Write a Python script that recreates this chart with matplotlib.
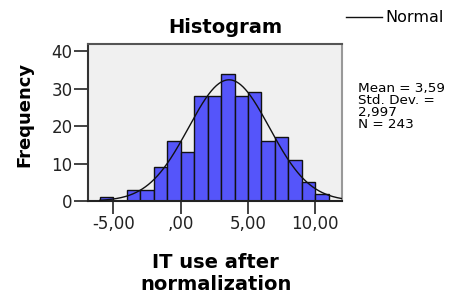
import numpy as np
import matplotlib
matplotlib.use("Agg")
import matplotlib.pyplot as plt
from matplotlib.lines import Line2D

# ---- data ----
bin_lefts = [-6, -5, -4, -3, -2, -1, 0, 1, 2, 3, 4, 5, 6, 7, 8, 9, 10]
counts = [1, 0, 3, 3, 9, 16, 13, 28, 28, 34, 28, 29, 16, 17, 11, 5, 2]
bin_width = 1.0
mean_val = 3.59
std_val = 2.997
n_val = 243
x_ticks = [-5, 0, 5, 10]
x_tick_labels = ["-5,00", ",00", "5,00", "10,00"]
y_ticks = [0, 10, 20, 30, 40]
title = "Histogram"
x_label_lines = ["IT use after", "normalization"]
y_label = "Frequency"
legend_label = "Normal"
stats_lines = ["Mean = 3,59", "Std. Dev. =", "2,997", "N = 243"]

W, H = 451, 295
fig = plt.figure(figsize=(W / 100, H / 100), dpi=100)
plt.rcParams['font.family'] = ['DejaVu Sans']

def fx(px):
    return px / W

def fy(py):
    return 1 - py / H

ax_l, ax_r, ax_t, ax_b = 88, 342, 44, 201
ax = fig.add_axes([fx(ax_l), fy(ax_b), fx(ax_r - ax_l), (ax_b - ax_t) / H])
ax.set_facecolor('#f0f0f0')

ax.bar(bin_lefts, counts, width=bin_width, align='edge',
       color='#5555fa', edgecolor='#111111', linewidth=1.0, zorder=2)

xmin, xmax = -6.88, 11.98
xs = np.linspace(-6.0, xmax, 400)
ys = n_val * bin_width / (std_val * np.sqrt(2 * np.pi)) * np.exp(-0.5 * ((xs - mean_val) / std_val) ** 2)
ax.plot(xs, ys, color='#111111', linewidth=1.0, zorder=3)

ax.set_xlim(xmin, xmax)
ax.set_ylim(0, 41.9)
ax.set_xticks(x_ticks)
ax.set_xticklabels(x_tick_labels, fontsize=12)
ax.set_yticks(y_ticks)
ax.set_yticklabels([str(v) for v in y_ticks], fontsize=12)
ax.tick_params(axis='x', length=9, width=1.2, pad=1, colors='#222222')
ax.tick_params(axis='y', length=10, width=1.2, pad=1, colors='#222222')

for side, col in [('left', '#333333'), ('bottom', '#222222'), ('top', '#555555'), ('right', '#999999')]:
    ax.spines[side].set_color(col)
    ax.spines[side].set_linewidth(1.5)

# title
fig.text(fx(225), fy(33), title, ha='center', va='baseline', fontsize=14, fontweight='bold')
# y label
fig.text(fx(24), fy(114), y_label, ha='center', va='center', rotation=90, fontsize=13, fontweight='bold')
# x label
fig.text(fx(215), fy(268), x_label_lines[0], ha='center', va='baseline', fontsize=14, fontweight='bold')
fig.text(fx(216), fy(294), x_label_lines[1], ha='center', va='bottom', fontsize=14, fontweight='bold')

# legend
fig.add_artist(Line2D([fx(346), fx(382)], [fy(17), fy(17)], color='#111111', linewidth=1.0))
fig.text(fx(385), fy(17), legend_label, ha='left', va='center', fontsize=11.5)

# stats (one block, tight line spacing as in the reference)
fig.text(fx(358), fy(82), "\n".join(stats_lines), ha='left', va='top',
         fontsize=9.7, linespacing=0.9)

fig.savefig('out.png', dpi=100)
